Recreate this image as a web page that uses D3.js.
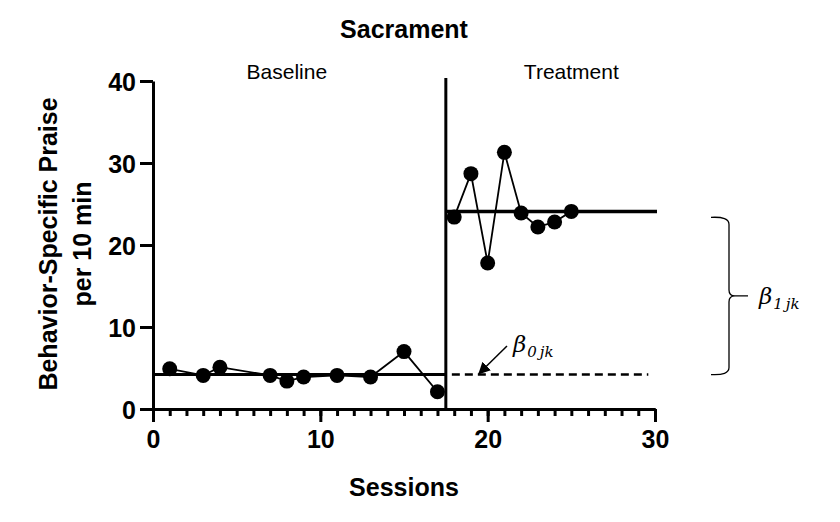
<!DOCTYPE html>
<html>
<head>
<meta charset="utf-8">
<script src="https://cdn.jsdelivr.net/npm/d3@7"></script>
<style>
  html, body { margin: 0; padding: 0; background: #fff; }
  svg { display: block; }
  text { font-family: "Liberation Sans", Arial, sans-serif; fill: #000; }
</style>
</head>
<body>
<svg id="chart" width="840" height="522"></svg>
<script>
// ---- data ----
const baselineSessions = [1, 3, 4, 7, 8, 9, 11, 13, 15, 17];
const baselineValues   = [4.9, 4.1, 5.1, 4.1, 3.4, 3.9, 4.1, 3.9, 7.0, 2.1];
const treatmentSessions = [18, 19, 20, 21, 22, 23, 24, 25];
const treatmentValues   = [23.4, 28.7, 17.8, 31.3, 23.9, 22.2, 22.8, 24.1];
const baselineMean = 4.2;
const treatmentMean = 24.1;
const phaseChange = 17.5;
const phaseLabels = ["Baseline", "Treatment"];
const phaseLabelPos = [8, 25];
const xTicks = [0, 10, 20, 30];
const xMinorTicks = d3.range(0, 31, 1);
const yTicks = [0, 10, 20, 30, 40];
const title = "Sacrament";
const xTitle = "Sessions";
const yTitleLines = ["Behavior-Specific Praise", "per 10 min"];

// ---- layout ----
const svg = d3.select("#chart");
const x = d3.scaleLinear().domain([0, 30]).range([153, 655]);
const y = d3.scaleLinear().domain([0, 40]).range([409, 81]);

// title
svg.append("text").attr("x", 404).attr("y", 38).attr("text-anchor", "middle")
  .style("font-size", "25px").style("font-weight", "bold").text(title);

// phase labels
phaseLabels.forEach((lab, i) => {
  svg.append("text").attr("x", x(phaseLabelPos[i])).attr("y", 79).attr("text-anchor", "middle")
    .style("font-size", "21px").text(lab);
});

// axes
const xMinor = svg.append("g").attr("transform", `translate(0,${y(0)})`)
  .call(d3.axisBottom(x).tickValues(xMinorTicks).tickSize(7).tickSizeOuter(0).tickFormat(""));
const xMajor = svg.append("g").attr("transform", `translate(0,${y(0)})`)
  .call(d3.axisBottom(x).tickValues(xTicks).tickSize(13).tickSizeOuter(0).tickPadding(8).tickFormat(d3.format("d")));
const yAxis = svg.append("g").attr("transform", `translate(${x(0)},0)`)
  .call(d3.axisLeft(y).tickValues(yTicks).tickSize(13).tickSizeOuter(0).tickPadding(4).tickFormat(d3.format("d")));

[xMinor, xMajor, yAxis].forEach(g => {
  g.selectAll("path.domain").attr("stroke", "#000").attr("stroke-width", 3);
  g.selectAll(".tick line").attr("stroke", "#000").attr("stroke-width", 3);
  g.selectAll(".tick text").style("font-family", "'Liberation Sans', Arial, sans-serif")
    .style("font-size", "25px").style("font-weight", "bold").attr("fill", "#000");
});
yAxis.selectAll(".tick text").attr("dy", "0.36em");

// axis titles
svg.append("text").attr("x", 404).attr("y", 496).attr("text-anchor", "middle")
  .style("font-size", "25px").style("font-weight", "bold").text(xTitle);
const yt = svg.append("text").attr("transform", "translate(0,244) rotate(-90)")
  .attr("text-anchor", "middle").style("font-size", "25px").style("font-weight", "bold");
yt.append("tspan").attr("x", 0).attr("y", 57).text(yTitleLines[0]);
yt.append("tspan").attr("x", 0).attr("y", 91).text(yTitleLines[1]);

// phase change line
svg.append("line").attr("x1", x(phaseChange)).attr("x2", x(phaseChange))
  .attr("y1", y(40) - 3).attr("y2", y(0)).attr("stroke", "#000").attr("stroke-width", 3);

// mean lines
svg.append("line").attr("x1", x(0)).attr("x2", x(phaseChange))
  .attr("y1", y(baselineMean)).attr("y2", y(baselineMean)).attr("stroke", "#000").attr("stroke-width", 3);
svg.append("line").attr("x1", x(phaseChange)).attr("x2", x(30) + 2)
  .attr("y1", y(treatmentMean)).attr("y2", y(treatmentMean)).attr("stroke", "#000").attr("stroke-width", 3.5);
svg.append("line").attr("x1", x(phaseChange) + 6).attr("x2", x(29.6))
  .attr("y1", y(baselineMean)).attr("y2", y(baselineMean)).attr("stroke", "#000").attr("stroke-width", 2.5)
  .attr("stroke-dasharray", "8,5");

// data lines and points
const line = d3.line().x(d => x(d[0])).y(d => y(d[1]));
const phases = [
  d3.zip(baselineSessions, baselineValues),
  d3.zip(treatmentSessions, treatmentValues)
];
phases.forEach(pts => {
  svg.append("path").datum(pts).attr("d", line).attr("fill", "none")
    .attr("stroke", "#000").attr("stroke-width", 1.8);
  svg.append("g").selectAll("circle").data(pts).join("circle")
    .attr("cx", d => x(d[0])).attr("cy", d => y(d[1])).attr("r", 7.5).attr("fill", "#000");
});

// beta_0jk annotation with arrow
const defs = svg.append("defs");
defs.append("marker").attr("id", "arrow").attr("viewBox", "0 0 10 10")
  .attr("refX", 9).attr("refY", 5).attr("markerWidth", 12).attr("markerHeight", 12)
  .attr("markerUnits", "userSpaceOnUse").attr("orient", "auto")
  .append("path").attr("d", "M0,0 L10,5 L0,10 z").attr("fill", "#000");
svg.append("line").attr("x1", 507).attr("y1", 346).attr("x2", 479).attr("y2", y(baselineMean) - 1)
  .attr("stroke", "#000").attr("stroke-width", 1.5).attr("marker-end", "url(#arrow)");

const b0 = svg.append("text").attr("x", 513).attr("y", 352)
  .style("font-family", "'DejaVu Serif', 'Liberation Serif', serif").style("font-style", "italic");
b0.append("tspan").style("font-size", "23px").text("β");
b0.append("tspan").attr("dy", 5).attr("dx", 1).style("font-size", "15px").text("0");
b0.append("tspan").attr("dx", 3).style("font-size", "15px").text("jk");

// brace and beta_1jk
const bTop = y(treatmentMean) + 6, bBot = y(baselineMean), bMid = (bTop + bBot) / 2;
svg.append("path")
  .attr("d", `M711,${bTop} Q729,${bTop - 1} 729,${bTop + 7} L729,${bMid - 6} Q729,${bMid} 735,${bMid} L748,${bMid}
              M735,${bMid} Q729,${bMid} 729,${bMid + 6} L729,${bBot - 7} Q729,${bBot + 1} 711,${bBot}`)
  .attr("fill", "none").attr("stroke", "#000").attr("stroke-width", 1.3);
const b1 = svg.append("text").attr("x", 759).attr("y", bMid + 8)
  .style("font-family", "'DejaVu Serif', 'Liberation Serif', serif").style("font-style", "italic");
b1.append("tspan").style("font-size", "23px").text("β");
b1.append("tspan").attr("dy", 5).attr("dx", 1).style("font-size", "15px").text("1");
b1.append("tspan").attr("dx", 3).style("font-size", "15px").text("jk");
</script>
</body>
</html>
